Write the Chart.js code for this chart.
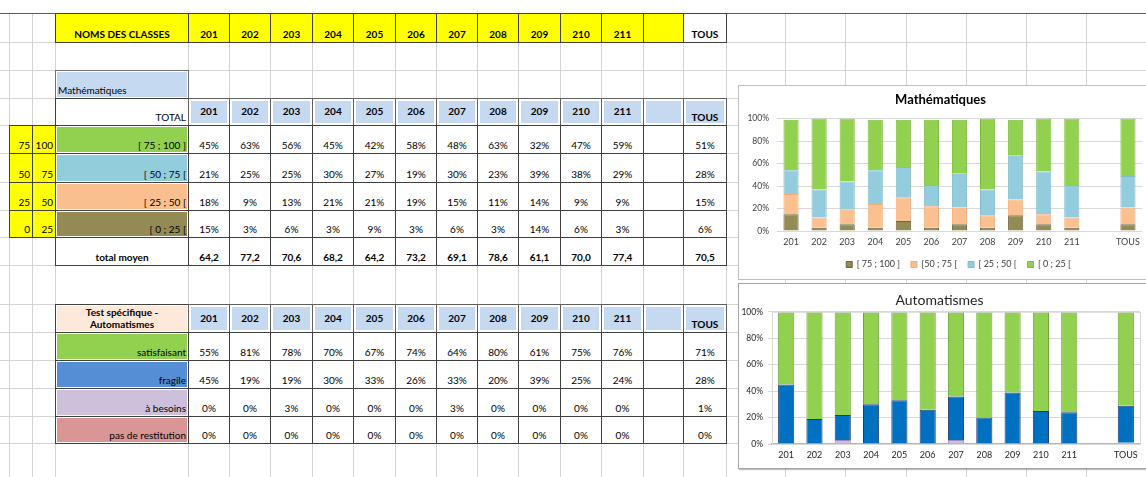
<!DOCTYPE html>
<html>
<head>
<meta charset="utf-8">
<script src="https://cdn.jsdelivr.net/npm/chart.js@4.4.1/dist/chart.umd.min.js"></script>
<style>
  body { margin: 0; width: 1146px; height: 477px; overflow: hidden; background: #fff; position: relative;
         font-family: Lato, "Liberation Sans", sans-serif; }
  #sheet { position: absolute; left: 0; top: 0; width: 1146px; height: 477px; }
  .g { position: absolute; background: #d4d4d4; }
  .c { position: absolute; box-sizing: border-box; border: 1px solid #404040; background: #fff;
       display: flex; font-size: 10px; line-height: 12px; color: #000; padding: 0 2px 2px 2px; white-space: nowrap; }
  .c .fill { position: absolute; }
  .c span { position: relative; z-index: 1; }
  .box { position: absolute; background: #fff; box-sizing: border-box; overflow: hidden; }
  .box canvas { position: absolute; left: 0; top: 0; }
</style>
</head>
<body>
<div id="sheet"></div>
<div class="box" id="mathBox" style="left:738px;top:85px;width:412px;height:195px;border:1px solid #c0c0c0;">
  <canvas id="mathChart" width="410" height="193"></canvas>
</div>
<div class="box" id="autoBox" style="left:738px;top:283px;width:426px;height:186px;border:1px solid #a6a6a6;box-shadow:1px 1px 1px rgba(0,0,0,0.25);">
  <canvas id="autoChart" width="424" height="184"></canvas>
</div>

<script>
/* =========================
   Data
========================= */
const classes = ["201", "202", "203", "204", "205", "206", "207", "208", "209", "210", "211", "", "TOUS"];

// Mathématiques (% of pupils per score range)
const rangeNames = ["[ 75 ; 100 ]", "[ 50 ; 75 [", "[ 25 ; 50 [", "[ 0 ; 25 ["];
const rangeLow = [75, 50, 25, 0];
const rangeHigh = [100, 75, 50, 25];
const math75 = [45, 63, 56, 45, 42, 58, 48, 63, 32, 47, 59, null, 51];
const math50 = [21, 25, 25, 30, 27, 19, 30, 23, 39, 38, 29, null, 28];
const math25 = [18, 9, 13, 21, 21, 19, 15, 11, 14, 9, 9, null, 15];
const math0 = [15, 3, 6, 3, 9, 3, 6, 3, 14, 6, 3, null, 6];
const totalMoyen = [64.2, 77.2, 70.6, 68.2, 64.2, 73.2, 69.1, 78.6, 61.1, 70.0, 77.4, null, 70.5];

// legend text as it is written on the chart
const mathLegend = ["[ 75 ; 100 ]", "[50 ; 75 [", "[ 25 ; 50 [", "[ 0 ; 25 ["];

// Automatismes
const autoNames = ["satisfaisant", "fragile", "à besoins", "pas de restitution"];
const autoSatisfaisant = [55, 81, 78, 70, 67, 74, 64, 80, 61, 75, 76, null, 71];
const autoFragile = [45, 19, 19, 30, 33, 26, 33, 20, 39, 25, 24, null, 28];
const autoBesoins = [0, 0, 3, 0, 0, 0, 3, 0, 0, 0, 0, null, 1];
const autoRestitution = [0, 0, 0, 0, 0, 0, 0, 0, 0, 0, 0, null, 0];

const yTicks = [0, 20, 40, 60, 80, 100];

/* =========================
   Sheet grid
========================= */
const colX = [9, 32, 55, 188, 229, 270, 312, 353, 395, 436, 477, 518, 560, 601, 643, 683, 726, 785, 845, 906, 966, 1026, 1086, 1146];
const rowY = [13, 42, 70, 98, 125, 153, 182, 210, 237, 265, 304, 332, 360, 388, 416, 443, 477];

const YELLOW = "#FFFF00";
const HEAD_BLUE = "#C5D9F1";
const mathFills = ["#92D050", "#92CDDC", "#FABF8F", "#948A54"];
const autoFills = ["#92D050", "#558ED5", "#CCC0DA", "#DA9694"];

const sheet = document.getElementById("sheet");

function line(x, y, w, h, color) {
  const d = document.createElement("div");
  d.className = "g";
  d.style.left = x + "px";
  d.style.top = y + "px";
  d.style.width = w + "px";
  d.style.height = h + "px";
  if (color) d.style.background = color;
  sheet.appendChild(d);
}

colX.forEach(x => line(x, 13, 1, 464));
rowY.slice(1, -1).forEach(y => line(0, y, 1146, 1));
line(0, 13, 1146, 1, "#595959");

function cell(c, r, text, o = {}) {
  const c1 = o.c1 ?? c + 1;
  const d = document.createElement("div");
  d.className = "c";
  d.style.left = colX[c] + "px";
  d.style.top = rowY[r] + "px";
  d.style.width = (colX[c1] - colX[c] + 1) + "px";
  d.style.height = (rowY[r + 1] - rowY[r] + 1) + "px";
  if (o.bg) {
    if (o.inset) {
      const f = document.createElement("div");
      f.className = "fill";
      f.style.inset = o.inset + "px";
      f.style.background = o.bg;
      d.appendChild(f);
    } else {
      d.style.background = o.bg;
    }
  }
  d.style.justifyContent = o.align || "center";
  d.style.alignItems = o.valign || "flex-end";
  if (o.bold) d.style.fontWeight = "bold";
  if (o.wrap) { d.style.whiteSpace = "normal"; d.style.textAlign = "center"; }
  if (o.border) d.style.borderColor = o.border;
  const s = document.createElement("span");
  s.innerHTML = text ?? "";
  d.appendChild(s);
  sheet.appendChild(d);
}

const pct = v => (v == null ? "" : v + "%");
const dec = v => (v == null ? "" : v.toFixed(1).replace(".", ","));

// header row
cell(2, 0, "NOMS DES CLASSES", { bg: YELLOW, bold: true });
classes.forEach((k, i) => {
  cell(3 + i, 0, k, { bg: k === "TOUS" ? null : YELLOW, bold: true });
});

// Mathématiques table
cell(2, 2, "Mathématiques", { bg: HEAD_BLUE, inset: 1, align: "flex-start", border: "#707070" });
cell(2, 3, "TOTAL", { align: "flex-end" });
classes.forEach((k, i) => {
  cell(3 + i, 3, k, { bg: HEAD_BLUE, inset: 2, bold: true, valign: k === "TOUS" ? "flex-end" : "center", border: "#606060" });
});
const mathRows = [math75, math50, math25, math0];
mathRows.forEach((vals, j) => {
  cell(0, 4 + j, String(rangeLow[j]), { bg: YELLOW, align: "flex-end" });
  cell(1, 4 + j, String(rangeHigh[j]), { bg: YELLOW, align: "flex-end" });
  cell(2, 4 + j, rangeNames[j], { bg: mathFills[j], inset: 1, align: "flex-end" });
  vals.forEach((v, i) => cell(3 + i, 4 + j, pct(v)));
});
cell(2, 8, "total moyen", { bold: true });
totalMoyen.forEach((v, i) => cell(3 + i, 8, dec(v), { bold: true }));

// Automatismes table
cell(2, 10, "Test spécifique -<br>Automatismes", { bg: "#FDE9D9", inset: 1, bold: true, wrap: true, valign: "center" });
classes.forEach((k, i) => {
  cell(3 + i, 10, k, { bg: HEAD_BLUE, inset: 2, bold: true, valign: k === "TOUS" ? "flex-end" : "center", border: "#606060" });
});
const autoRows = [autoSatisfaisant, autoFragile, autoBesoins, autoRestitution];
autoRows.forEach((vals, j) => {
  cell(2, 11 + j, autoNames[j], { bg: autoFills[j], inset: 1, align: "flex-end" });
  vals.forEach((v, i) => cell(3 + i, 11 + j, pct(v)));
});

/* =========================
   Charts
========================= */
const FONT = 'Lato, "Liberation Sans", sans-serif';
Chart.defaults.font.family = FONT;

const plotBorder = {
  id: "plotBorder",
  afterDraw(chart) {
    const { ctx, chartArea: a } = chart;
    ctx.save();
    ctx.strokeStyle = "#d9d9d9";
    ctx.lineWidth = 1;
    ctx.strokeRect(a.left + 0.5, a.top + 0.5, a.right - a.left, a.bottom - a.top);
    ctx.restore();
  }
};

// nudge the legend a bit to the right, as in the sheet
const legendShift = {
  id: "legendShift",
  afterLayout(chart) {
    if (!chart.legend) return;
    chart.legend.left += 18;
    chart.legend.right += 18;
  }
};

function barSet(label, data, fill, border, pctWidth) {
  return {
    label, data,
    backgroundColor: fill,
    borderColor: border,
    borderWidth: 1,
    barPercentage: pctWidth,
    categoryPercentage: 1
  };
}

new Chart(document.getElementById("mathChart"), {
  type: "bar",
  data: {
    labels: classes,
    datasets: [
      barSet(mathLegend[0], math0, "#948A54", "#6e663a", 0.54),
      barSet(mathLegend[1], math25, "#FAC090", "#f0ad78", 0.54),
      barSet(mathLegend[2], math50, "#93CDDD", "#7fbccd", 0.54),
      barSet(mathLegend[3], math75, "#92D050", "#7dbd3c", 0.54)
    ]
  },
  options: {
    responsive: false,
    animation: false,
    layout: { padding: { left: 0, right: 7, top: 0, bottom: 0 } },
    plugins: {
      title: {
        display: true, text: "Mathématiques", color: "#000",
        font: { size: 13, weight: "bold" }, padding: { top: 6, bottom: 11 }
      },
      legend: {
        position: "bottom",
        labels: { boxWidth: 6, boxHeight: 6, font: { size: 9 }, color: "#404040", padding: 11 }
      },
      tooltip: { enabled: false }
    },
    scales: {
      x: {
        stacked: true,
        afterFit(s) { s.height = 18; },
        grid: { display: false, drawTicks: false },
        border: { display: false },
        ticks: { font: { size: 9 }, color: "#404040", padding: 6, maxRotation: 0, autoSkip: false }
      },
      y: {
        stacked: true, min: 0, max: 100,
        afterFit(s) { s.width = 38; },
        afterBuildTicks(s) { s.ticks = yTicks.map(v => ({ value: v })); },
        grid: { color: "#d9d9d9", drawTicks: false },
        border: { display: false },
        ticks: { callback: v => v + "%", font: { size: 8.5 }, color: "#404040", padding: 8 }
      }
    }
  },
  plugins: [legendShift]
});

new Chart(document.getElementById("autoChart"), {
  type: "bar",
  data: {
    labels: classes,
    datasets: [
      barSet(autoNames[3], autoRestitution, "#DA9694", "#c0504d", 0.57),
      barSet(autoNames[2], autoBesoins, "#CCC0DA", "#a08cc0", 0.57),
      barSet(autoNames[1], autoFragile, "#0070C0", "#1f3b73", 0.57),
      barSet(autoNames[0], autoSatisfaisant, "#92D050", "#6aa834", 0.57)
    ]
  },
  options: {
    responsive: false,
    animation: false,
    layout: { padding: { left: 0, right: 23, top: 0, bottom: 7 } },
    plugins: {
      title: {
        display: true, text: "Automatismes", color: "#262626",
        font: { size: 14, weight: "normal" }, padding: { top: 8, bottom: 3 }
      },
      legend: { display: false },
      tooltip: { enabled: false }
    },
    scales: {
      x: {
        stacked: true,
        afterFit(s) { s.height = 17; },
        grid: { display: false, drawTicks: false },
        border: { display: true, color: "#a7b9d6", width: 2 },
        ticks: { font: { size: 9 }, color: "#262626", padding: 6, maxRotation: 0, autoSkip: false }
      },
      y: {
        stacked: true, min: 0, max: 100,
        afterFit(s) { s.width = 33; },
        afterBuildTicks(s) { s.ticks = yTicks.map(v => ({ value: v })); },
        grid: { color: "#d9d9d9", drawTicks: true, tickLength: 4 },
        border: { display: false },
        ticks: { callback: v => v + "%", font: { size: 8.5 }, color: "#262626", padding: 5 }
      }
    }
  },
  plugins: [plotBorder]
});
</script>
</body>
</html>
